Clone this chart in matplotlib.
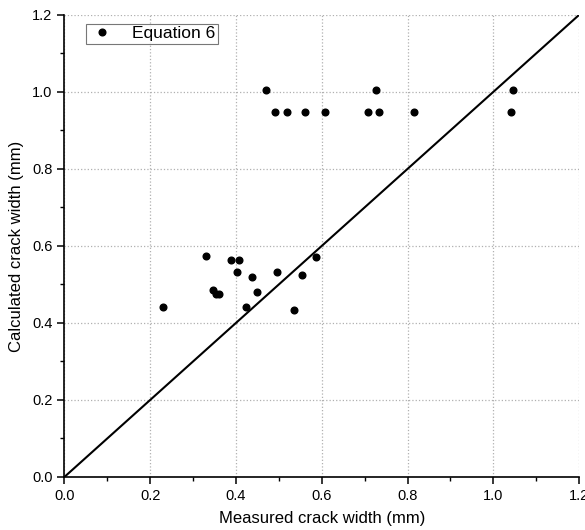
import matplotlib
matplotlib.use('Agg')
import matplotlib.pyplot as plt
from matplotlib.ticker import MultipleLocator

plt.rcParams['font.family'] = ['Liberation Sans', 'DejaVu Sans']

# measured vs. calculated crack width (mm), Equation 6
measured = [0.470, 0.727, 1.045,
            0.491, 0.519, 0.562, 0.608, 0.707, 0.734, 0.815, 1.040,
            0.330, 0.388, 0.406, 0.402, 0.437, 0.495, 0.555, 0.586,
            0.347, 0.353, 0.360, 0.449, 0.231, 0.424, 0.535]
calculated = [1.005, 1.005, 1.005,
              0.949, 0.949, 0.949, 0.949, 0.949, 0.949, 0.949, 0.949,
              0.575, 0.564, 0.564, 0.531, 0.519, 0.531, 0.525, 0.572,
              0.486, 0.475, 0.475, 0.481, 0.442, 0.442, 0.434]
equality = [0.0, 1.2]

fig = plt.figure(figsize=(5.85, 5.3), dpi=100)
ax = fig.add_axes([0.110, 0.100, 0.880, 0.872])

ax.plot(equality, equality, color='black', linewidth=1.5, zorder=2)
ax.plot(measured, calculated, 'o', color='black', markersize=4.8,
        label='Equation 6', zorder=3)

ax.set_xlim(0, 1.2)
ax.set_ylim(0, 1.2)
ax.xaxis.set_major_locator(MultipleLocator(0.2))
ax.yaxis.set_major_locator(MultipleLocator(0.2))
ax.xaxis.set_minor_locator(MultipleLocator(0.1))
ax.yaxis.set_minor_locator(MultipleLocator(0.1))
ax.xaxis.set_major_formatter(lambda v, p: f'{v:.1f}')
ax.yaxis.set_major_formatter(lambda v, p: f'{v:.1f}')

ax.grid(True, which='major', linestyle=':', color='#b0b0b0', linewidth=0.9)
ax.set_axisbelow(True)
for side in ('top', 'right'):
    ax.spines[side].set_visible(False)
for side in ('left', 'bottom'):
    ax.spines[side].set_linewidth(1.2)

ax.tick_params(which='major', direction='out', length=5, width=1.1, labelsize=10.5)
ax.tick_params(which='minor', direction='out', length=3, width=1.0)

ax.set_xlabel('Measured crack width (mm)', fontsize=12, labelpad=6)
ax.set_ylabel('Calculated crack width (mm)', fontsize=12, labelpad=6)

leg = ax.legend(loc='upper left', bbox_to_anchor=(0.042, 0.981), fontsize=12.5,
                frameon=True, fancybox=False, borderpad=0.15, borderaxespad=0,
                handletextpad=1.0, handlelength=1.5)
leg.get_frame().set_edgecolor('#555555')
leg.get_frame().set_linewidth(0.8)

fig.savefig('out.png', dpi=100)
